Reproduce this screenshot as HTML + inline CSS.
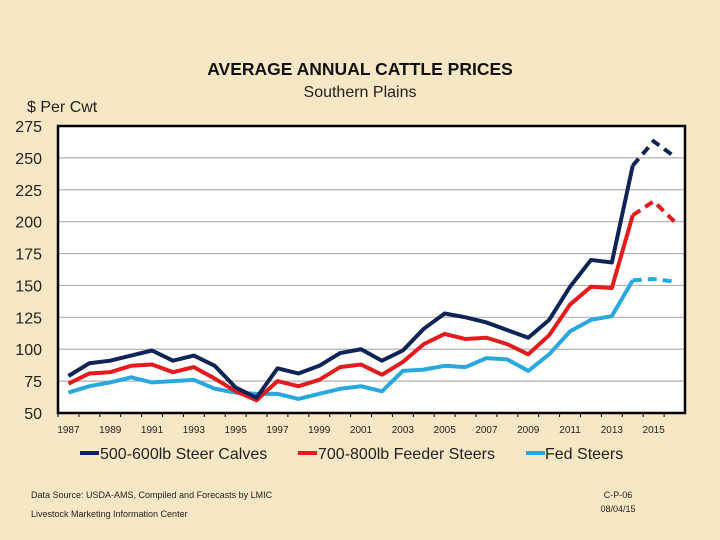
<!DOCTYPE html>
<html><head><meta charset="utf-8"><style>
html,body{margin:0;padding:0}
body{width:720px;height:540px;background:#f7e7c4;position:relative;overflow:hidden;font-family:"Liberation Sans",sans-serif}
</style></head><body>
<svg id="chart" width="720" height="540" xmlns="http://www.w3.org/2000/svg" style="position:absolute;left:0;top:0">
<rect x="0" y="0" width="720" height="540" fill="#f7e7c4"/>
<text x="360" y="75" text-anchor="middle" font-family="Liberation Sans" font-weight="bold" font-size="17.5" fill="#111">AVERAGE ANNUAL CATTLE PRICES</text>
<text x="360" y="97" text-anchor="middle" font-family="Liberation Sans" font-size="16" fill="#222">Southern Plains</text>
<text x="27" y="112" font-family="Liberation Sans" font-size="16" fill="#222">$ Per Cwt</text>
<rect x="58" y="126" width="627" height="287" fill="#fff"/>
<g id="grid"></g><g id="yticks"></g><g id="xticks"></g><g id="series"></g>
<rect x="58" y="126" width="627" height="287" fill="none" stroke="#000" stroke-width="2.5"/>
<g font-family="Liberation Sans" font-size="16" fill="#222">
<line x1="80" y1="453" x2="99" y2="453" stroke="#0f2456" stroke-width="4"/>
<text x="100" y="459">500-600lb Steer Calves</text>
<line x1="298" y1="453" x2="317" y2="453" stroke="#e41a1c" stroke-width="4"/>
<text x="318" y="459">700-800lb Feeder Steers</text>
<line x1="526" y1="453" x2="545" y2="453" stroke="#29a8e0" stroke-width="4"/>
<text x="545" y="459">Fed Steers</text>
</g>
<text x="31" y="498" font-family="Liberation Sans" font-size="9" fill="#222">Data Source:  USDA-AMS, Compiled and Forecasts by LMIC</text>
<text x="31" y="517" font-family="Liberation Sans" font-size="9" fill="#222">Livestock Marketing Information Center</text>
<text x="618" y="498" text-anchor="middle" font-family="Liberation Sans" font-size="9" fill="#222">C-P-06</text>
<text x="618" y="512" text-anchor="middle" font-family="Liberation Sans" font-size="9" fill="#222">08/04/15</text>
</svg>
<script>
const years=[1987,1988,1989,1990,1991,1992,1993,1994,1995,1996,1997,1998,1999,2000,2001,2002,2003,2004,2005,2006,2007,2008,2009,2010,2011,2012,2013,2014,2015,2016];
const calves=[79,89,91,95,99,91,95,87,70,62,85,81,87,97,100,91,99,116,128,125,121,115,109,123,149,170,168,244,263,251];
const feeder=[73,81,82,87,88,82,86,77,67,60,75,71,76,86,88,80,90,104,112,108,109,104,96,111,135,149,148,205,216,200];
const fed=[66,71,74,78,74,75,76,69,66,65,65,61,65,69,71,67,83,84,87,86,93,92,83,96,114,123,126,154,155,153];
const yTicks=[50,75,100,125,150,175,200,225,250,275];
const forecastStart=2014;
const L=58,R=685,T=126,B=413,yMin=50,yMax=275;
const ns="http://www.w3.org/2000/svg";
const step=(R-L)/years.length;
function xS(i){return L+(i+0.5)*step;}
function yS(v){return B-(v-yMin)/(yMax-yMin)*(B-T);}
function mk(tag,attrs,parent){const e=document.createElementNS(ns,tag);for(const k in attrs)e.setAttribute(k,attrs[k]);parent.appendChild(e);return e;}
const grid=document.getElementById('grid'),yt=document.getElementById('yticks'),xt=document.getElementById('xticks'),ser=document.getElementById('series');
yTicks.forEach(v=>{
  if(v>yMin&&v<yMax){const g=mk('line',{x1:L,x2:R,y1:yS(v),y2:yS(v),stroke:'#b0b0b0','stroke-width':1.2},grid);
  
  }
  const t=mk('text',{x:42,y:yS(v)+6,'text-anchor':'end','font-family':'Liberation Sans','font-size':16,fill:'#222'},yt);
  t.textContent=v;
  
  
});
years.forEach((y,i)=>{
  const tk=mk('line',{x1:L+i*step,x2:L+i*step,y1:B,y2:B+4,stroke:'#000','stroke-width':1},xt);
  
  
  if(y%2===1){const t=mk('text',{x:xS(i),y:B+20,'text-anchor':'middle','font-family':'Liberation Sans','font-size':10,fill:'#222'},xt);
  t.textContent=y;
  
  }
});
function draw(vals,color,name){
  const fi=years.indexOf(forecastStart);
  const solid=vals.slice(0,fi+1).map((v,i)=>xS(i)+','+yS(v)).join(' ');
  const dash=vals.slice(fi).map((v,j)=>xS(fi+j)+','+yS(v)).join(' ');
  const a=mk('polyline',{points:solid,fill:'none',stroke:color,'stroke-width':4,'stroke-linejoin':'round'},ser);
  
  
  const b=mk('polyline',{points:dash,fill:'none',stroke:color,'stroke-width':4,'stroke-dasharray':'9 6'},ser);
  
  
}
draw(fed,'#29a8e0','fed-steers');
draw(feeder,'#e41a1c','feeder-steers');
draw(calves,'#0f2456','steer-calves');
</script>
</body></html>
